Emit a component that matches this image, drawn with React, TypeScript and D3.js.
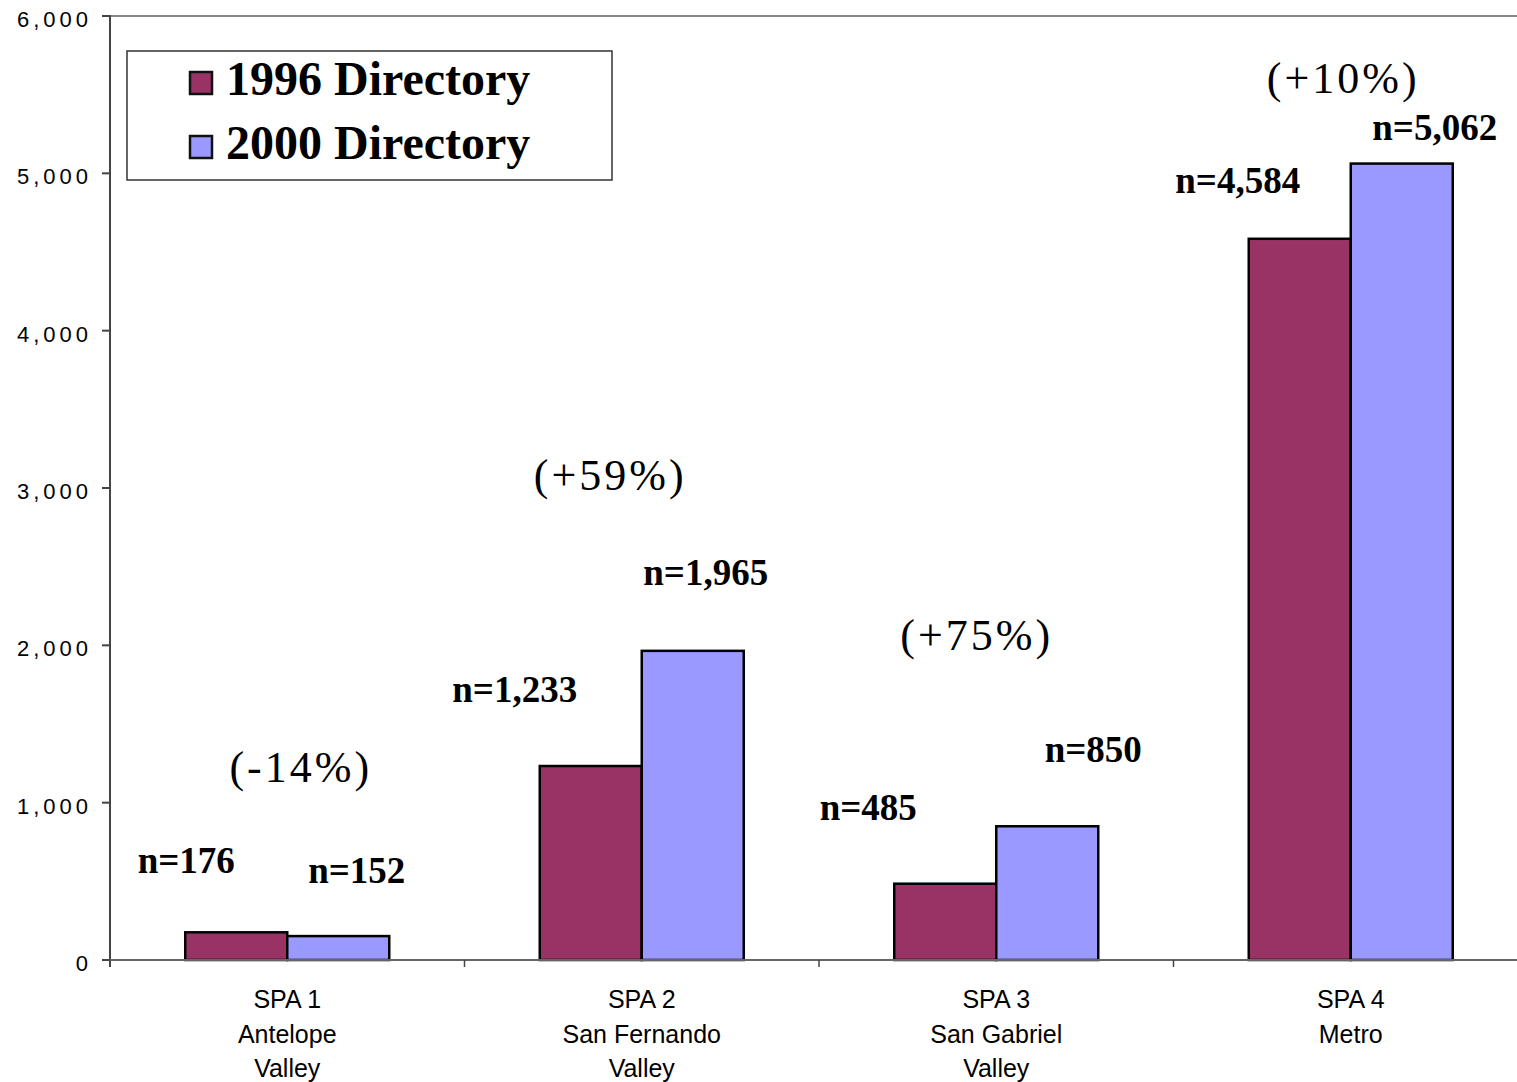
import React from "react";
import * as d3 from "d3";

const categories = ["SPA 1|Antelope|Valley", "SPA 2|San Fernando|Valley", "SPA 3|San Gabriel|Valley", "SPA 4|Metro"];
const series1996 = [176, 1233, 485, 4584];
const series2000 = [152, 1965, 850, 5062];
const seriesNames = ["1996 Directory", "2000 Directory"];
const changeLabels = ["(-14%)", "(+59%)", "(+75%)", "(+10%)"];
const yTicks = [0, 1000, 2000, 3000, 4000, 5000, 6000];

const W = 1517;
const H = 1082;
const X0 = 110;
const CAT_W = 354.5;
const Y_TOP = 16;
const Y_BOT = 960;
const COLORS = ["#993366", "#9999FF"];
const SERIF = "'Times New Roman', 'Liberation Serif', serif";
const SANS = "Arial, 'Liberation Sans', sans-serif";

// annotation offsets: dx from bar centre, dy from bar top (baseline)
const n1996Pos = [
  { dx: -50, dy: -59 },
  { dx: -76, dy: -64 },
  { dx: -77, dy: -64 },
  { dx: -62, dy: -46 },
];
const n2000Pos = [
  { dx: 18.5, dy: -53 },
  { dx: 13, dy: -66 },
  { dx: 46, dy: -64 },
  { dx: 33, dy: -24 },
];
// percent labels: dx from category centre, absolute baseline y
const pctPos = [
  { dx: 12, y: 782 },
  { dx: -33, y: 490 },
  { dx: -21, y: 650 },
  { dx: -9, y: 93 },
];

const fmt = d3.format(",");

export default function App() {
  const x = d3.scaleBand<string>().domain(categories).range([X0, X0 + CAT_W * 4]).paddingInner(0).paddingOuter(0);
  const y = d3.scaleLinear().domain([0, 6000]).range([Y_BOT, Y_TOP]);
  const barW = 102;

  return (
    <svg width={W} height={H} style={{ position: "absolute", left: 0, top: 0, background: "#fff" }}>
      {/* top border */}
      <line x1={X0} x2={W} y1={Y_TOP} y2={Y_TOP} stroke="#888" strokeWidth={2} />
      {/* y axis */}
      <line x1={X0} x2={X0} y1={Y_TOP - 1} y2={Y_BOT + 7} stroke="#444" strokeWidth={2} />
      {yTicks.map((t) => (
        <g key={t}>
          <line x1={X0 - 8} x2={X0} y1={y(t)} y2={y(t)} stroke="#444" strokeWidth={2} />
          <text x={92} y={y(t) + 11} textAnchor="end" fontFamily={SANS} fontSize={22} letterSpacing={4} fill="#000">
            {fmt(t)}
          </text>
        </g>
      ))}
      {/* bars */}
      {categories.map((c, i) => {
        const cx = (x(c) as number) + x.bandwidth() / 2;
        const v1 = series1996[i];
        const v2 = series2000[i];
        return (
          <g key={c}>
            <rect x={cx - barW} y={y(v1)} width={barW} height={Y_BOT - y(v1)} fill={COLORS[0]} stroke="#000" strokeWidth={2.5} />
            <rect x={cx} y={y(v2)} width={barW} height={Y_BOT - y(v2)} fill={COLORS[1]} stroke="#000" strokeWidth={2.5} />
          </g>
        );
      })}
      {/* x axis */}
      <line x1={X0} x2={W} y1={Y_BOT} y2={Y_BOT} stroke="#666" strokeWidth={2} />
      {categories.map((c, i) =>
        i > 0 ? <line key={c} x1={x(c)} x2={x(c)} y1={Y_BOT} y2={Y_BOT + 7} stroke="#444" strokeWidth={1.5} /> : null
      )}
      {/* category labels */}
      {categories.map((c) => {
        const cx = (x(c) as number) + x.bandwidth() / 2;
        return c.split("|").map((line, j) => (
          <text key={c + j} x={cx} y={1008 + j * 34.5} textAnchor="middle" fontFamily={SANS} fontSize={25} fill="#000">
            {line}
          </text>
        ));
      })}
      {/* value labels */}
      {categories.map((c, i) => {
        const cx = (x(c) as number) + x.bandwidth() / 2;
        const v1 = series1996[i];
        const v2 = series2000[i];
        return (
          <g key={"n" + c} fontFamily={SERIF} fill="#000">
            <text x={cx - barW / 2 + n1996Pos[i].dx} y={y(v1) + n1996Pos[i].dy} textAnchor="middle" fontWeight="bold" fontSize={37}>{"n=" + fmt(v1)}</text>
            <text x={cx + barW / 2 + n2000Pos[i].dx} y={y(v2) + n2000Pos[i].dy} textAnchor="middle" fontWeight="bold" fontSize={37}>{"n=" + fmt(v2)}</text>
            <text x={cx + pctPos[i].dx + 1.5} y={pctPos[i].y} textAnchor="middle" fontSize={44} letterSpacing={3}>{changeLabels[i]}</text>
          </g>
        );
      })}
      {/* legend */}
      <rect x={127} y={51} width={485} height={129} fill="#fff" stroke="#333" strokeWidth={1.5} />
      {seriesNames.map((s, i) => (
        <g key={s}>
          <rect x={190} y={72 + i * 64} width={22} height={22} fill={COLORS[i]} stroke="#111" strokeWidth={2.5} />
          <text x={226} y={95 + i * 63.5} fontFamily={SERIF} fontWeight="bold" fontSize={48} fill="#000">
            {s}
          </text>
        </g>
      ))}
    </svg>
  );
}
